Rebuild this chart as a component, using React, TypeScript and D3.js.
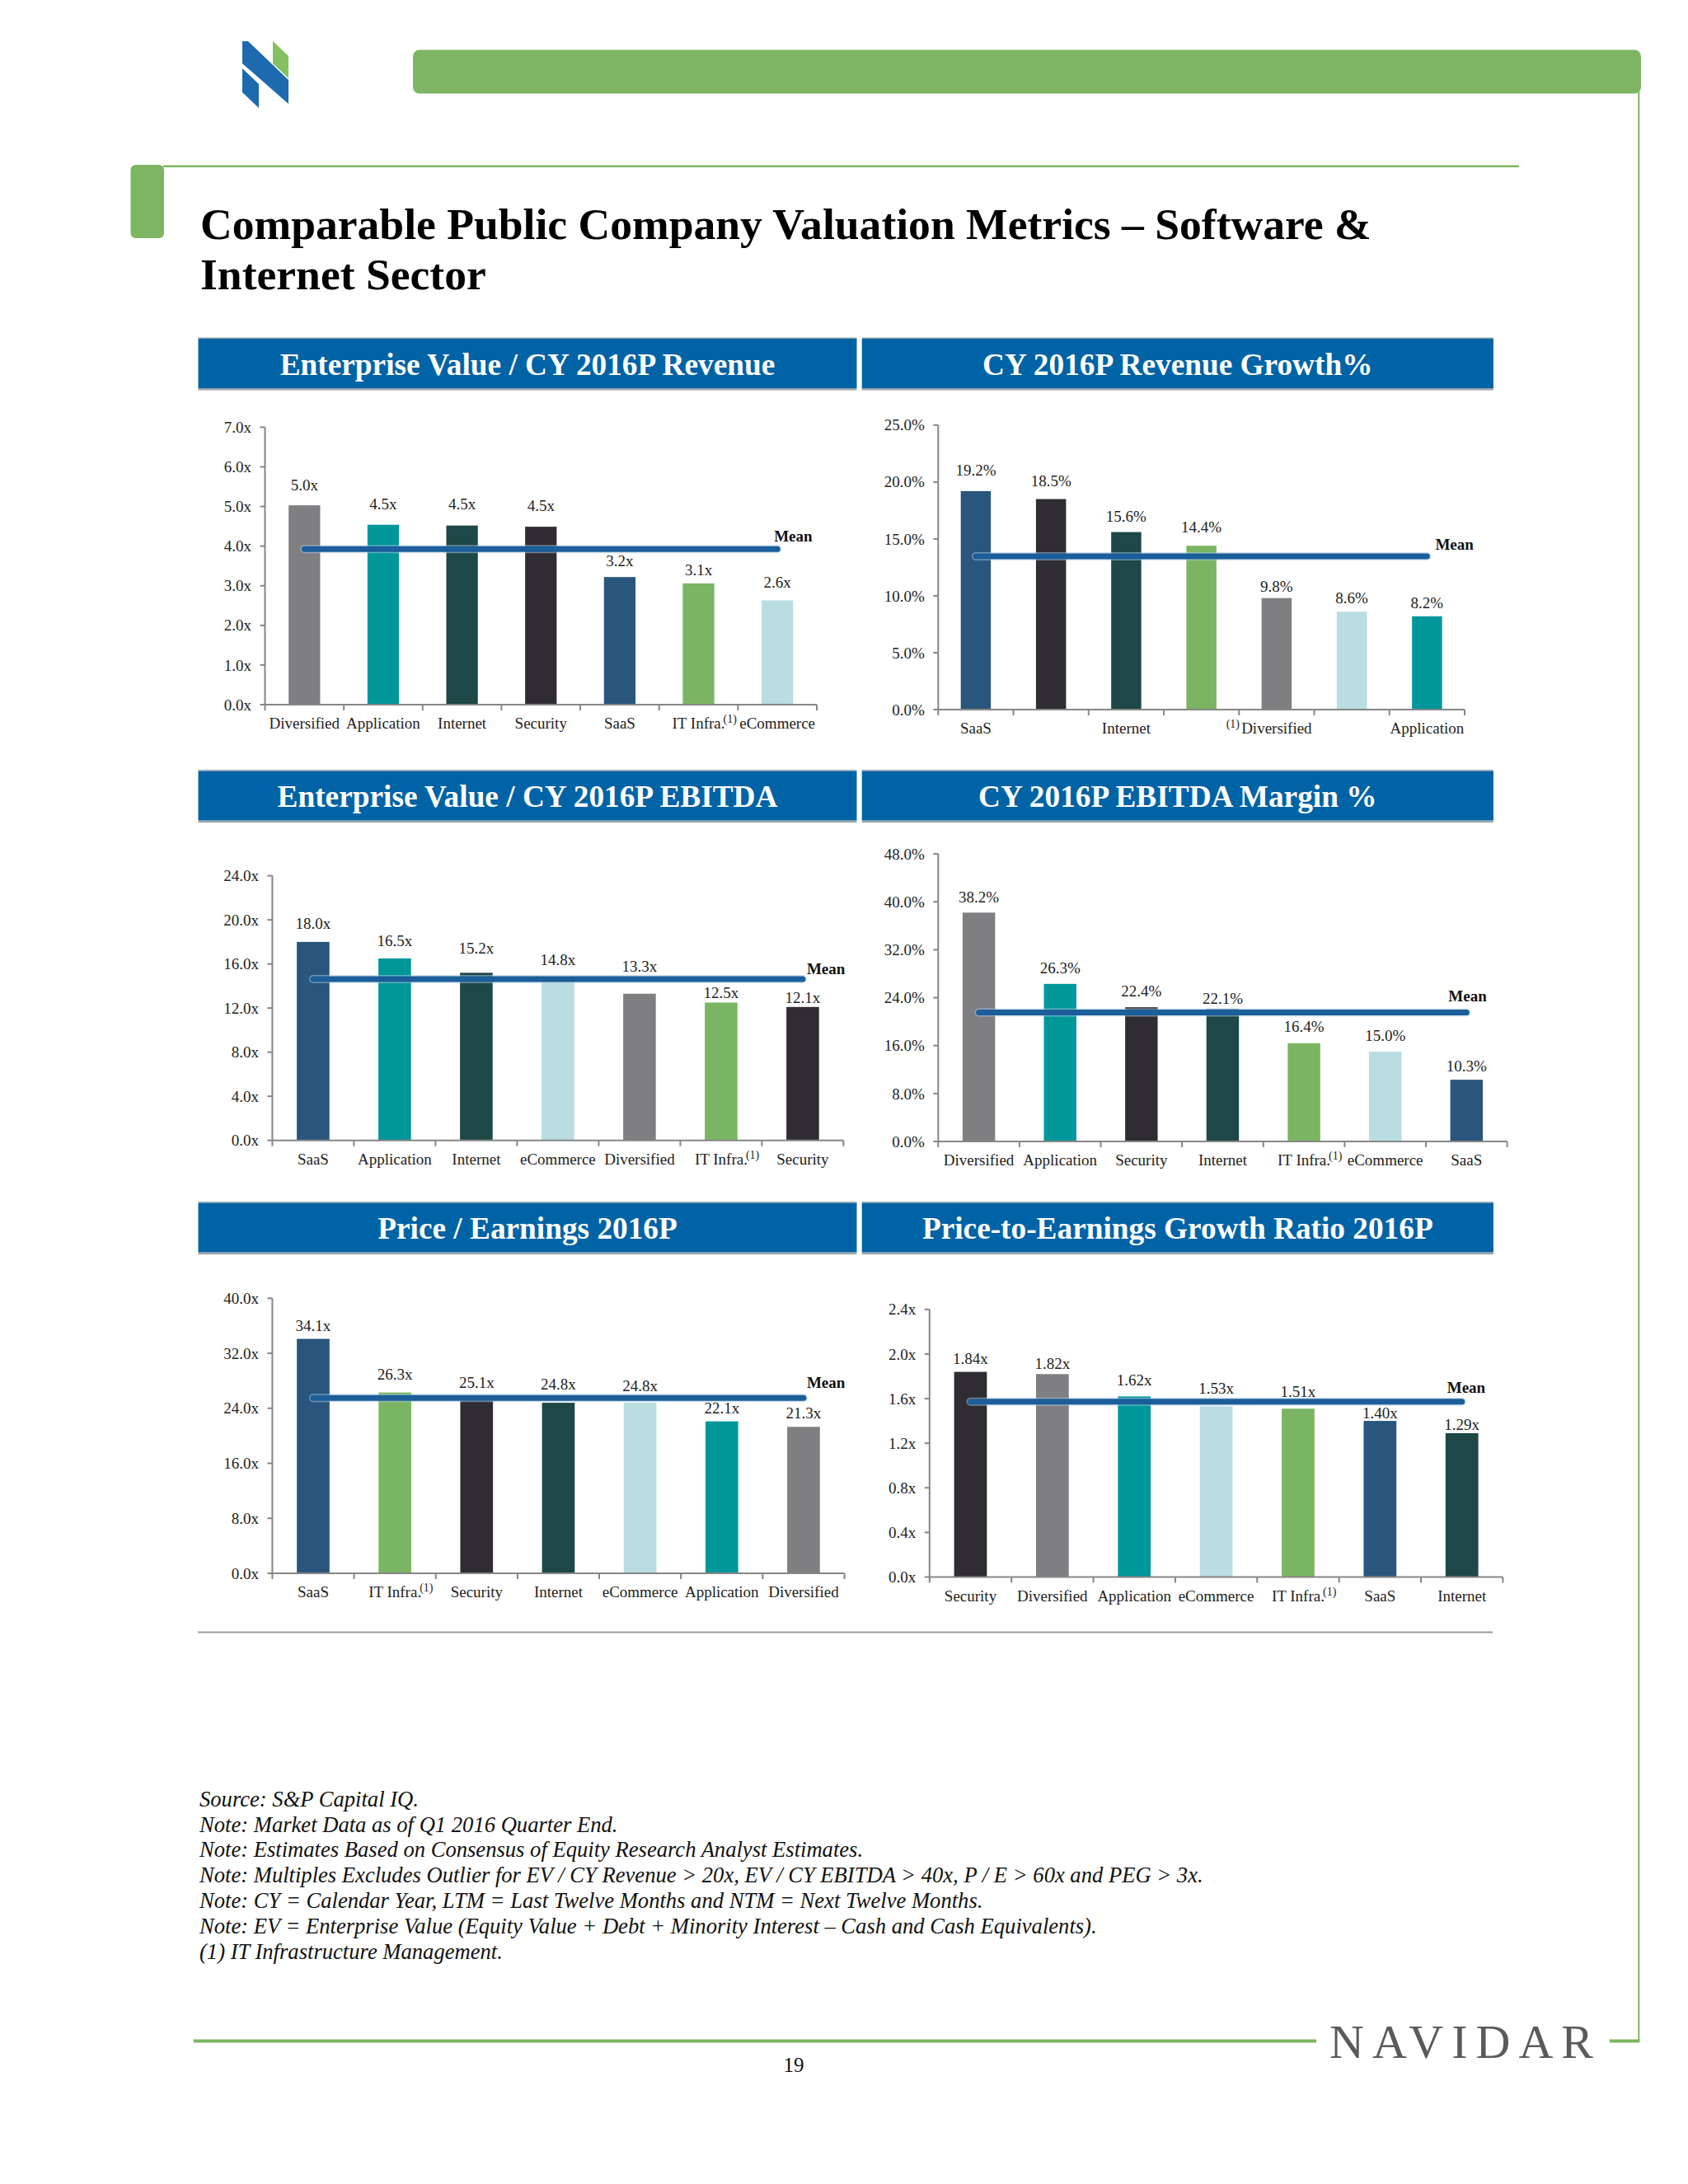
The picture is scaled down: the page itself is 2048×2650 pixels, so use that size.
import React from "react";
import * as d3 from "d3";

const FONT = "'Liberation Serif', 'Times New Roman', Times, serif";

// ---------- DATA ----------
const evRevCategories = ["Diversified", "Application", "Internet", "Security", "SaaS", "IT Infra.", "eCommerce"];
const evRevValues = [5.03, 4.54, 4.52, 4.49, 3.22, 3.06, 2.63];
const evRevTicks = [0, 1, 2, 3, 4, 5, 6, 7];

const revGrowthCategories = ["SaaS", "Security", "Internet", "IT Infra.", "Diversified", "eCommerce", "Application"];
const revGrowthValues = [19.2, 18.5, 15.6, 14.4, 9.8, 8.6, 8.2];
const revGrowthTicks = [0, 5, 10, 15, 20, 25];

const evEbitdaCategories = ["SaaS", "Application", "Internet", "eCommerce", "Diversified", "IT Infra.", "Security"];
const evEbitdaValues = [18.0, 16.5, 15.2, 14.8, 13.3, 12.5, 12.1];
const evEbitdaTicks = [0, 4, 8, 12, 16, 20, 24];

const marginCategories = ["Diversified", "Application", "Security", "Internet", "IT Infra.", "eCommerce", "SaaS"];
const marginValues = [38.2, 26.3, 22.4, 22.1, 16.4, 15.0, 10.3];
const marginTicks = [0, 8, 16, 24, 32, 40, 48];

const peCategories = ["SaaS", "IT Infra.", "Security", "Internet", "eCommerce", "Application", "Diversified"];
const peValues = [34.1, 26.3, 25.1, 24.8, 24.8, 22.1, 21.3];
const peTicks = [0, 8, 16, 24, 32, 40];

const pegCategories = ["Security", "Diversified", "Application", "eCommerce", "IT Infra.", "SaaS", "Internet"];
const pegValues = [1.84, 1.82, 1.62, 1.53, 1.51, 1.40, 1.29];
const pegTicks = [0, 0.4, 0.8, 1.2, 1.6, 2.0, 2.4];

const panelTitles = [
  "Enterprise Value / CY 2016P Revenue",
  "CY 2016P Revenue Growth%",
  "Enterprise Value / CY 2016P EBITDA",
  "CY 2016P EBITDA Margin %",
  "Price / Earnings 2016P",
  "Price-to-Earnings Growth Ratio 2016P",
];

const footnotes = [
  "Source: S&P Capital IQ.",
  "Note: Market Data as of Q1 2016 Quarter End.",
  "Note: Estimates Based on Consensus of Equity Research Analyst Estimates.",
  "Note: Multiples Excludes Outlier for EV / CY Revenue > 20x, EV / CY EBITDA > 40x, P / E > 60x and PEG > 3x.",
  "Note: CY = Calendar Year, LTM = Last Twelve Months and NTM = Next Twelve Months.",
  "Note: EV = Enterprise Value (Equity Value + Debt + Minority Interest \u2013 Cash and Cash Equivalents).",
  "(1) IT Infrastructure Management.",
];

// ---------- STYLES ----------
const categoryColors: Record<string, string> = {
  Diversified: "#7f7f82",
  Application: "#00979a",
  Internet: "#1e4747",
  Security: "#302c33",
  SaaS: "#2a567d",
  "IT Infra.": "#7bb563",
  eCommerce: "#b9dde1",
};
const GREEN = "#7db562";
const HEADER_BLUE = "#0063a5";
const MEAN_BLUE = "#1b5e99";
const AXIS = "#868686";

const fmtX1 = (v: number) => d3.format(".1f")(v) + "x";
const fmtX2 = (v: number) => d3.format(".2f")(v) + "x";
const fmtP1 = (v: number) => d3.format(".1f")(v) + "%";

type Spec = {
  cats: string[];
  vals: number[];
  ticks: number[];
  tickFmt: (v: number) => string;
  labelFmt: (v: number) => string;
  x0: number; x1: number; yTop: number; yBot: number;
  gaps: number[]; meanDx: number; meanDy: number; labelEvery: number;
};

// layout: axis extents, label gaps above bars (px), mean label offsets
const specs: Spec[] = [
  { cats: evRevCategories, vals: evRevValues, ticks: evRevTicks, tickFmt: fmtX1, labelFmt: fmtX1,
    x0: 321.5, x1: 991, yTop: 518.4, yBot: 855, gaps: [18, 19, 20, 19.5, 13, 9.6, 16],
    meanDx: -4, meanDy: -9, labelEvery: 1 },
  { cats: revGrowthCategories, vals: revGrowthValues, ticks: revGrowthTicks, tickFmt: fmtP1, labelFmt: fmtP1,
    x0: 1138.3, x1: 1777, yTop: 515.8, yBot: 861, gaps: [19, 15.6, 12.3, 16, 7.3, 10, 9.6],
    meanDx: 10, meanDy: -8, labelEvery: 2 },
  { cats: evEbitdaCategories, vals: evEbitdaValues, ticks: evEbitdaTicks, tickFmt: fmtX1, labelFmt: fmtX1,
    x0: 330.4, x1: 1023.4, yTop: 1062.6, yBot: 1383.7, gaps: [16, 15, 23, 14.6, 27, 5, 5],
    meanDx: 5, meanDy: -6, labelEvery: 1 },
  { cats: marginCategories, vals: marginValues, ticks: marginTicks, tickFmt: fmtP1, labelFmt: fmtP1,
    x0: 1138.3, x1: 1828.6, yTop: 1036.1, yBot: 1385, gaps: [12.6, 13, 13, 6.3, 14, 13, 10],
    meanDx: -22, meanDy: -14, labelEvery: 1 },
  { cats: peCategories, vals: peValues, ticks: peTicks, tickFmt: fmtX1, labelFmt: fmtX1,
    x0: 330.4, x1: 1024.5, yTop: 1575.3, yBot: 1909, gaps: [10, 16, 16, 16, 14, 10, 10],
    meanDx: 4, meanDy: -12, labelEvery: 1 },
  { cats: pegCategories, vals: pegValues, ticks: pegTicks, tickFmt: fmtX1, labelFmt: fmtX2,
    x0: 1127.8, x1: 1823.4, yTop: 1588.8, yBot: 1913.5, gaps: [9.6, 6.2, 13.8, 15.8, 14, 3.1, 3.8],
    meanDx: -18, meanDy: -11, labelEvery: 1 },
];

const headerRows = [411, 935.6, 1459.6];
const headerCols = [
  { x: 240.5, w: 799 },
  { x: 1045.7, w: 766.2 },
];

function Header({ x, y, w, title }: { x: number; y: number; w: number; title: string }) {
  return (
    <g>
      <rect x={x} y={y - 1.5} width={w} height={1.5} fill="#9aa3aa" />
      <rect x={x} y={y} width={w} height={60} fill={HEADER_BLUE} />
      <rect x={x} y={y + 60} width={w} height={2.5} fill="#9aa3aa" />
      <text x={x + w / 2} y={y + 43.5} textAnchor="middle" fontFamily={FONT} fontWeight="bold"
        fontSize={37.3} fill="#ffffff">{title}</text>
    </g>
  );
}

function BarChart({ spec }: { spec: Spec }) {
  const { cats, vals, ticks, x0, x1, yTop, yBot } = spec;
  const n = cats.length;
  const x = d3.scaleBand<string>().domain(cats).range([x0, x1]).paddingInner(0.6).paddingOuter(0.3);
  const y = d3.scaleLinear().domain([ticks[0], ticks[ticks.length - 1]]).range([yBot, yTop]);
  const step = x.step();
  const bounds = d3.range(n + 1).map((i) => x0 + i * step);
  const mean = d3.mean(vals) as number;
  const cx = (c: string) => (x(c) as number) + x.bandwidth() / 2;
  const lineStart = cx(cats[0]);
  const lineEnd = cx(cats[n - 1]);
  const my = y(mean);
  return (
    <g fontFamily={FONT}>
      {cats.map((c, i) => (
        <rect key={c} x={x(c)} y={y(vals[i])} width={x.bandwidth()} height={yBot - y(vals[i])}
          fill={categoryColors[c]} />
      ))}
      <line x1={x0} x2={x0} y1={yTop} y2={yBot} stroke={AXIS} strokeWidth={2} />
      {ticks.map((t) => (
        <g key={t}>
          <line x1={x0 - 6} x2={x0} y1={y(t)} y2={y(t)} stroke={AXIS} strokeWidth={2} />
          <text x={x0 - 16.5} y={y(t)} dy="0.35em" textAnchor="end" fontSize={19} fill="#222">
            {spec.tickFmt(t)}
          </text>
        </g>
      ))}
      <line x1={x0} x2={x1} y1={yBot} y2={yBot} stroke={AXIS} strokeWidth={2} />
      {bounds.map((b, i) => (
        <line key={i} x1={b} x2={b} y1={yBot} y2={yBot + 7} stroke={AXIS} strokeWidth={2} />
      ))}
      {cats.map((c, i) =>
        i % spec.labelEvery === 0 ? (
          <text key={c} x={cx(c)} y={yBot + 29} textAnchor="middle" fontSize={19} fill="#222">{c}</text>
        ) : null
      )}
      {cats.map((c) =>
        c === "IT Infra." ? (
          <text key={c + "sup"} x={cx(c) + 30} y={yBot + 22} fontSize={14} fill="#222">(1)</text>
        ) : null
      )}
      <line x1={lineStart} x2={lineEnd} y1={my} y2={my} stroke="#a9c8e2" strokeOpacity={0.55}
        strokeWidth={10} strokeLinecap="round" />
      <line x1={lineStart} x2={lineEnd} y1={my} y2={my} stroke={MEAN_BLUE} strokeWidth={7}
        strokeLinecap="round" />
      <text x={lineEnd + spec.meanDx} y={my + spec.meanDy} fontSize={19} fontWeight="bold" fill="#111">Mean</text>
      {cats.map((c, i) => (
        <text key={c + "lbl"} x={cx(c)} y={y(vals[i]) - spec.gaps[i]} textAnchor="middle" fontSize={19} fill="#222">
          {spec.labelFmt(vals[i])}
        </text>
      ))}
    </g>
  );
}

export default function App() {
  return (
    <svg width={2048} height={2650} viewBox="0 0 2048 2650"
      style={{ position: "absolute", left: 0, top: 0, display: "block", background: "#fff" }}>
      <rect x={0} y={0} width={2048} height={2650} fill="#ffffff" />
      <g>
        <polygon points="294,50 301,50 350,97 350,126 294,77" fill="#1d6aae" />
        <polygon points="294,83 314,102 314,131 294,112" fill="#1d6aae" />
        <polygon points="331,50 350,68 350,95 331,77" fill="#84c060" />
      </g>
      <rect x={501} y={60.5} width={1490} height={53} rx={8} fill={GREEN} />
      <line x1={1988.3} x2={1988.3} y1={110} y2={2477} stroke={GREEN} strokeWidth={2} />
      <line x1={198} x2={1843} y1={201.7} y2={201.7} stroke={GREEN} strokeWidth={2.5} />
      <rect x={158.5} y={200} width={40.5} height={89} rx={6} fill={GREEN} />
      <text x={243} y={290} fontFamily={FONT} fontWeight="bold" fontSize={53.6} fill="#000">
        Comparable Public Company Valuation Metrics {"\u2013"} Software &amp;
      </text>
      <text x={243} y={351} fontFamily={FONT} fontWeight="bold" fontSize={53.6} fill="#000">
        Internet Sector
      </text>
      {panelTitles.map((t, i) => {
        const row = Math.floor(i / 2);
        const col = i % 2;
        return <Header key={t} x={headerCols[col].x} y={headerRows[row]} w={headerCols[col].w} title={t} />;
      })}
      {specs.map((s, i) => <BarChart key={i} spec={s} />)}
      <line x1={240} x2={1811} y1={1980.5} y2={1980.5} stroke="#9a9a9a" strokeWidth={2} />
      {footnotes.map((f, i) => (
        <text key={i} x={242} y={2191.7 + i * 30.8} fontFamily={FONT} fontStyle="italic" fontSize={26.6} fill="#111">
          {f}
        </text>
      ))}
      <line x1={235} x2={1597} y1={2476.5} y2={2476.5} stroke={GREEN} strokeWidth={4} />
      <line x1={1953} x2={1989.3} y1={2476.5} y2={2476.5} stroke={GREEN} strokeWidth={4} />
      <text x={1613} y={2497} fontFamily={FONT} fontSize={58} letterSpacing={10} fill="#5a5a5a">NAVIDAR</text>
      <text x={963} y={2514} textAnchor="middle" fontFamily={FONT} fontSize={25} fill="#111">19</text>
    </svg>
  );
}
